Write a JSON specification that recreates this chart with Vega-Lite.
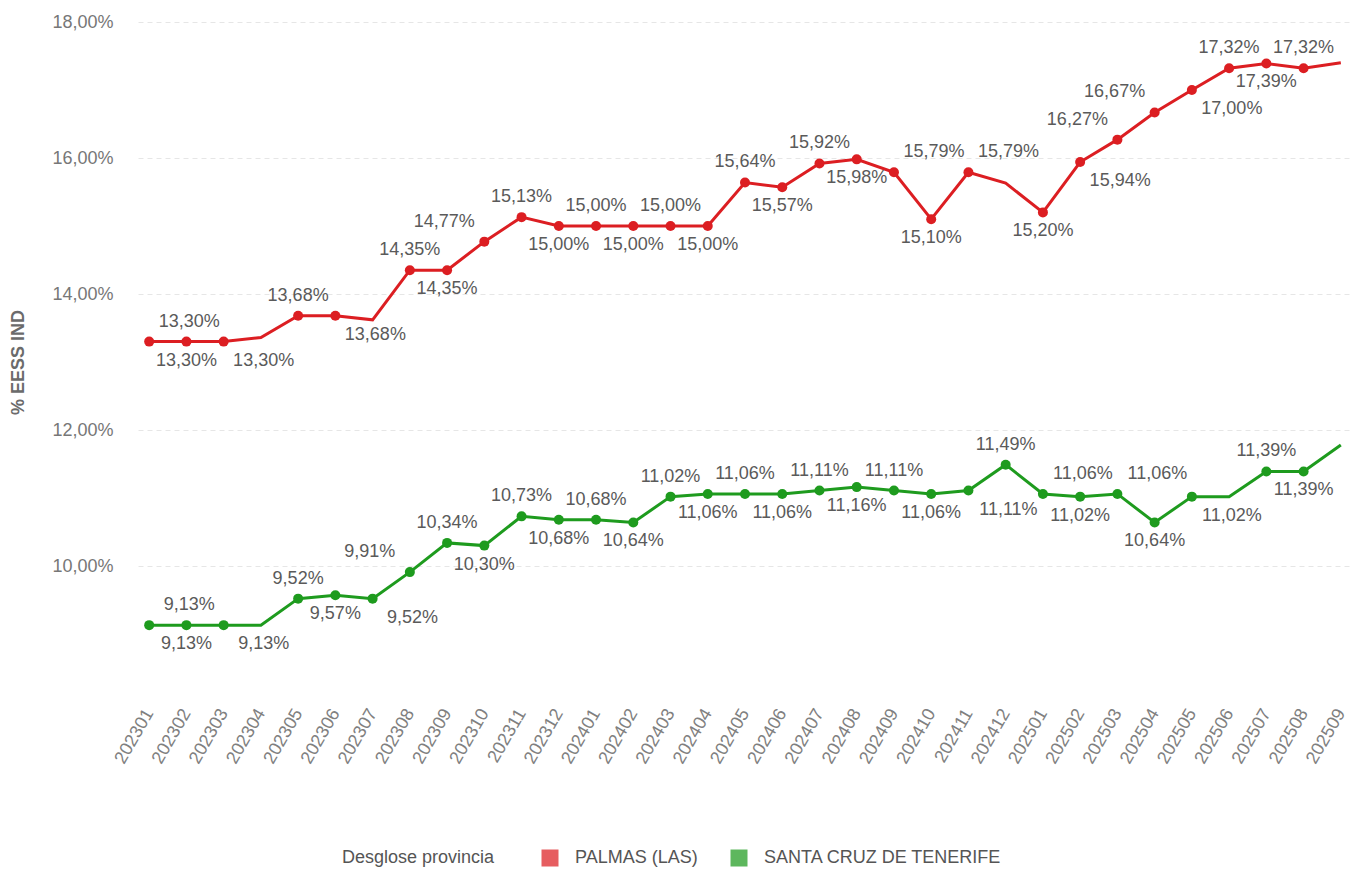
{
  "$schema": "https://vega.github.io/schema/vega-lite/v6.json",
  "autosize": {"type": "none"},
  "padding": {"left": 138, "top": 22, "right": 0, "bottom": 168},
  "width": 1214,
  "height": 680,
  "background": "white",
  "config": {
    "font": "Liberation Sans",
    "view": {"stroke": null},
    "axis": {"labelFont": "Liberation Sans", "titleFont": "Liberation Sans"}
  },
  "data": {
    "values": [
      {"mes": "202301", "serie": "PALMAS (LAS)", "valor": 13.30},
      {"mes": "202302", "serie": "PALMAS (LAS)", "valor": 13.30},
      {"mes": "202303", "serie": "PALMAS (LAS)", "valor": 13.30},
      {"mes": "202304", "serie": "PALMAS (LAS)", "valor": 13.36},
      {"mes": "202305", "serie": "PALMAS (LAS)", "valor": 13.68},
      {"mes": "202306", "serie": "PALMAS (LAS)", "valor": 13.68},
      {"mes": "202307", "serie": "PALMAS (LAS)", "valor": 13.62},
      {"mes": "202308", "serie": "PALMAS (LAS)", "valor": 14.35},
      {"mes": "202309", "serie": "PALMAS (LAS)", "valor": 14.35},
      {"mes": "202310", "serie": "PALMAS (LAS)", "valor": 14.77},
      {"mes": "202311", "serie": "PALMAS (LAS)", "valor": 15.13},
      {"mes": "202312", "serie": "PALMAS (LAS)", "valor": 15.00},
      {"mes": "202401", "serie": "PALMAS (LAS)", "valor": 15.00},
      {"mes": "202402", "serie": "PALMAS (LAS)", "valor": 15.00},
      {"mes": "202403", "serie": "PALMAS (LAS)", "valor": 15.00},
      {"mes": "202404", "serie": "PALMAS (LAS)", "valor": 15.00},
      {"mes": "202405", "serie": "PALMAS (LAS)", "valor": 15.64},
      {"mes": "202406", "serie": "PALMAS (LAS)", "valor": 15.57},
      {"mes": "202407", "serie": "PALMAS (LAS)", "valor": 15.92},
      {"mes": "202408", "serie": "PALMAS (LAS)", "valor": 15.98},
      {"mes": "202409", "serie": "PALMAS (LAS)", "valor": 15.79},
      {"mes": "202410", "serie": "PALMAS (LAS)", "valor": 15.10},
      {"mes": "202411", "serie": "PALMAS (LAS)", "valor": 15.79},
      {"mes": "202412", "serie": "PALMAS (LAS)", "valor": 15.63},
      {"mes": "202501", "serie": "PALMAS (LAS)", "valor": 15.20},
      {"mes": "202502", "serie": "PALMAS (LAS)", "valor": 15.94},
      {"mes": "202503", "serie": "PALMAS (LAS)", "valor": 16.27},
      {"mes": "202504", "serie": "PALMAS (LAS)", "valor": 16.67},
      {"mes": "202505", "serie": "PALMAS (LAS)", "valor": 17.00},
      {"mes": "202506", "serie": "PALMAS (LAS)", "valor": 17.32},
      {"mes": "202507", "serie": "PALMAS (LAS)", "valor": 17.39},
      {"mes": "202508", "serie": "PALMAS (LAS)", "valor": 17.32},
      {"mes": "202509", "serie": "PALMAS (LAS)", "valor": 17.40},
      {"mes": "202301", "serie": "SANTA CRUZ DE TENERIFE", "valor": 9.13},
      {"mes": "202302", "serie": "SANTA CRUZ DE TENERIFE", "valor": 9.13},
      {"mes": "202303", "serie": "SANTA CRUZ DE TENERIFE", "valor": 9.13},
      {"mes": "202304", "serie": "SANTA CRUZ DE TENERIFE", "valor": 9.13},
      {"mes": "202305", "serie": "SANTA CRUZ DE TENERIFE", "valor": 9.52},
      {"mes": "202306", "serie": "SANTA CRUZ DE TENERIFE", "valor": 9.57},
      {"mes": "202307", "serie": "SANTA CRUZ DE TENERIFE", "valor": 9.52},
      {"mes": "202308", "serie": "SANTA CRUZ DE TENERIFE", "valor": 9.91},
      {"mes": "202309", "serie": "SANTA CRUZ DE TENERIFE", "valor": 10.34},
      {"mes": "202310", "serie": "SANTA CRUZ DE TENERIFE", "valor": 10.30},
      {"mes": "202311", "serie": "SANTA CRUZ DE TENERIFE", "valor": 10.73},
      {"mes": "202312", "serie": "SANTA CRUZ DE TENERIFE", "valor": 10.68},
      {"mes": "202401", "serie": "SANTA CRUZ DE TENERIFE", "valor": 10.68},
      {"mes": "202402", "serie": "SANTA CRUZ DE TENERIFE", "valor": 10.64},
      {"mes": "202403", "serie": "SANTA CRUZ DE TENERIFE", "valor": 11.02},
      {"mes": "202404", "serie": "SANTA CRUZ DE TENERIFE", "valor": 11.06},
      {"mes": "202405", "serie": "SANTA CRUZ DE TENERIFE", "valor": 11.06},
      {"mes": "202406", "serie": "SANTA CRUZ DE TENERIFE", "valor": 11.06},
      {"mes": "202407", "serie": "SANTA CRUZ DE TENERIFE", "valor": 11.11},
      {"mes": "202408", "serie": "SANTA CRUZ DE TENERIFE", "valor": 11.16},
      {"mes": "202409", "serie": "SANTA CRUZ DE TENERIFE", "valor": 11.11},
      {"mes": "202410", "serie": "SANTA CRUZ DE TENERIFE", "valor": 11.06},
      {"mes": "202411", "serie": "SANTA CRUZ DE TENERIFE", "valor": 11.11},
      {"mes": "202412", "serie": "SANTA CRUZ DE TENERIFE", "valor": 11.49},
      {"mes": "202501", "serie": "SANTA CRUZ DE TENERIFE", "valor": 11.06},
      {"mes": "202502", "serie": "SANTA CRUZ DE TENERIFE", "valor": 11.02},
      {"mes": "202503", "serie": "SANTA CRUZ DE TENERIFE", "valor": 11.06},
      {"mes": "202504", "serie": "SANTA CRUZ DE TENERIFE", "valor": 10.64},
      {"mes": "202505", "serie": "SANTA CRUZ DE TENERIFE", "valor": 11.02},
      {"mes": "202506", "serie": "SANTA CRUZ DE TENERIFE", "valor": 11.02},
      {"mes": "202507", "serie": "SANTA CRUZ DE TENERIFE", "valor": 11.39},
      {"mes": "202508", "serie": "SANTA CRUZ DE TENERIFE", "valor": 11.39},
      {"mes": "202509", "serie": "SANTA CRUZ DE TENERIFE", "valor": 11.78}
    ]
  },
  "encoding": {
    "x": {
      "field": "mes", "type": "ordinal",
      "scale": {"type": "point", "padding": 0.3},
      "axis": {
        "title": null, "labelAngle": -60, "labelFontSize": 18, "labelColor": "#808080",
        "domain": false, "ticks": false, "grid": false, "labelPadding": 8
      }
    },
    "y": {
      "field": "valor", "type": "quantitative",
      "scale": {"domain": [8, 18], "nice": false, "zero": false},
      "axis": {
        "title": "% EESS IND", "titleFontSize": 18, "titleFontWeight": "bold", "titleColor": "#6b6b6b",
        "titlePadding": 24,
        "values": [10, 12, 14, 16, 18],
        "labelExpr": "replace(format(datum.value, '.2f'), '.', ',') + '%'",
        "labelFontSize": 18, "labelColor": "#777777", "labelPadding": 25,
        "domain": false, "ticks": false,
        "grid": true, "gridColor": "#e6e6e6", "gridDash": [5, 4], "gridWidth": 1
      }
    }
  },
  "layer": [
    {
      "mark": {"type": "line", "strokeWidth": 3},
      "encoding": {
        "color": {
          "field": "serie", "type": "nominal",
          "scale": {"domain": ["PALMAS (LAS)", "SANTA CRUZ DE TENERIFE"], "range": ["#DC1E22", "#1E9B1E"]},
          "legend": {
            "title": "Desglose provincia", "orient": "none", "legendX": 204, "legendY": 827,
            "direction": "horizontal",
            "titleOrient": "left", "titleFontSize": 18, "titleFontWeight": "normal", "titleColor": "#555555",
            "titlePadding": 46, "labelFontSize": 18, "labelColor": "#555555", "labelOffset": 16, "labelLimit": 0,
            "symbolType": "square", "symbolSize": 289, "symbolStrokeWidth": 0,
            "columnPadding": 32,
            "encode": {"symbols": {"update": {"opacity": {"value": 0.72}}}}
          }
        }
      }
    },
    {
      "transform": [
        {"filter": "!((datum.serie == 'PALMAS (LAS)' && indexof(['202304','202307','202412','202509'], datum.mes) >= 0) || (datum.serie == 'SANTA CRUZ DE TENERIFE' && indexof(['202304','202506','202509'], datum.mes) >= 0))"}
      ],
      "mark": {"type": "point", "filled": true, "size": 100, "opacity": 1},
      "encoding": {
        "color": {"field": "serie", "type": "nominal"}
      }
    },
    {
      "transform": [
        {"filter": "!((datum.serie == 'PALMAS (LAS)' && indexof(['202304','202307','202412','202509'], datum.mes) >= 0) || (datum.serie == 'SANTA CRUZ DE TENERIFE' && indexof(['202304','202506','202509'], datum.mes) >= 0))"},
        {"calculate": "replace(format(datum.valor, '.2f'), '.', ',') + '%'", "as": "etiqueta"},
        {"calculate": "datum.serie == 'PALMAS (LAS)' ? indexof(['202301','202305','202308','202310','202311','202401','202403','202405','202407','202409','202411','202503','202504','202506','202508'], datum.mes) >= 0 : indexof(['202301','202305','202308','202309','202311','202401','202403','202405','202407','202409','202412','202501','202503','202507'], datum.mes) >= 0", "as": "arriba"},
        {"calculate": "datum.serie == 'PALMAS (LAS)' ? (indexof(['202301','202303','202306','202409','202411','202502','202505'], datum.mes) >= 0 ? 1 : (indexof(['202310','202503','202504'], datum.mes) >= 0 ? -1 : 0)) : (indexof(['202301','202303','202307','202411','202501','202503','202505'], datum.mes) >= 0 ? 1 : (indexof(['202308'], datum.mes) >= 0 ? -1 : 0))", "as": "lado"}
      ],
      "mark": {
        "type": "text", "fontSize": 18, "color": "#5a5a5a", "baseline": "middle",
        "dx": {"expr": "datum.lado * 40"},
        "dy": {"expr": "datum.arriba ? -20 : 19"}
      },
      "encoding": {"text": {"field": "etiqueta"}}
    }
  ]
}
